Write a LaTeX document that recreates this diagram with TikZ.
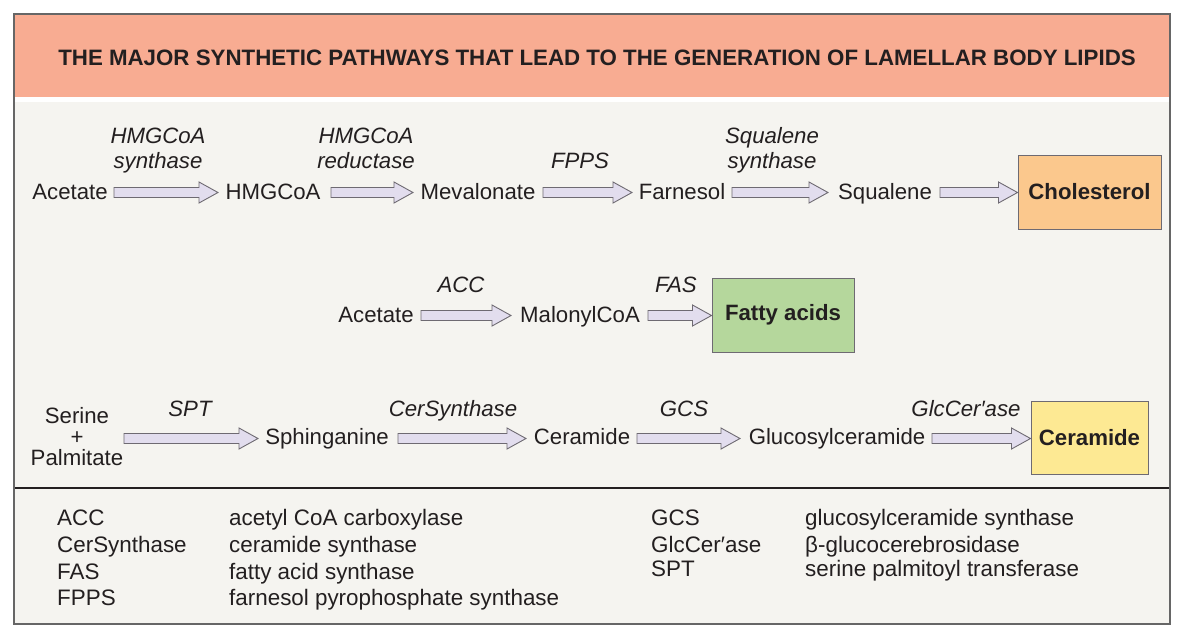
\documentclass[tikz,border=0pt]{standalone}
\usepackage{fontspec}
\setmainfont{Liberation Sans}
\usetikzlibrary{calc}
\definecolor{hdr}{HTML}{F8AC92}
\definecolor{bg}{HTML}{F5F4F0}
\definecolor{arrfill}{HTML}{E2DDEE}
\definecolor{arrline}{HTML}{6E6A72}
\definecolor{chol}{HTML}{FBC88D}
\definecolor{fatty}{HTML}{B5D79C}
\definecolor{cer}{HTML}{FDE993}
\definecolor{txt}{HTML}{231F20}
\tikzset{
  mol/.style={font=\fontsize{22.2}{24}\selectfont, text=txt, inner sep=0pt, outer sep=0pt, anchor=base},
  enz/.style={font=\fontsize{22.2}{25}\selectfont\itshape, text=txt, inner sep=0pt, align=center, anchor=base},
  prod/.style={draw=arrline, line width=1pt, font=\fontsize{22.2}{24}\selectfont\bfseries, text=txt},
  leg/.style={font=\fontsize{22.4}{24}\selectfont, text=txt, anchor=base west, inner sep=0pt},
  blockarrow/.style={draw=arrline, fill=arrfill, line width=0.9pt, line join=miter,
    to path={let \p1=(\tikztostart), \p2=(\tikztotarget) in
      (\x1,\y1+5pt) -- (\x2-19pt,\y1+5pt) -- (\x2-19pt,\y1+10.5pt) -- (\x2,\y1)
      -- (\x2-19pt,\y1-10.5pt) -- (\x2-19pt,\y1-5pt) -- (\x1,\y1-5pt) -- cycle}}
}
\begin{document}
\begin{tikzpicture}[x=1pt,y=-1pt]
\useasboundingbox (0,0) rectangle (1183,635);
\fill[white] (0,0) rectangle (1183,635);
% frame and backgrounds
\fill[bg] (14,102) rectangle (1170,624);
\fill[hdr] (14,14) rectangle (1170,97);
\draw[line width=1.5pt, draw=txt] (14,488) -- (1170,488);
\draw[line width=1.2pt, draw=black!60] (14,14) rectangle (1170,624);
\node[font=\fontsize{22.3}{24}\selectfont\bfseries, text=txt, anchor=base, inner sep=0pt] (title) at (597,65)
  {THE MAJOR SYNTHETIC PATHWAYS THAT LEAD TO THE GENERATION OF LAMELLAR BODY LIPIDS};

% row 1
\node[mol] (ac1) at (70,199) {Acetate};
\node[mol] (hmg) at (273,199) {HMGCoA};
\node[mol] (mev) at (478,199) {Mevalonate};
\node[mol] (far) at (682,199) {Farnesol};
\node[mol] (squ) at (885,199) {Squalene};
\node[prod, fill=chol, minimum width=143pt, minimum height=74pt] (chl) at (1089.5,192) {Cholesterol};
\coordinate (a1s) at (114,192.5); \coordinate (a1e) at (218,192.5);
\coordinate (a2s) at (331,192.5); \coordinate (a2e) at (413,192.5);
\coordinate (a3s) at (543,192.5); \coordinate (a3e) at (632,192.5);
\coordinate (a4s) at (732,192.5); \coordinate (a4e) at (828,192.5);
\coordinate (a5s) at (940,192.5);
\draw[blockarrow] (a1s) to (a1e);
\draw[blockarrow] (a2s) to (a2e);
\draw[blockarrow] (a3s) to (a3e);
\draw[blockarrow] (a4s) to (a4e);
\draw[blockarrow] (a5s) to (chl.west);
\node[enz] (e1) at (158,168) {HMGCoA\\synthase};
\node[enz] (e2) at (366,168) {HMGCoA\\reductase};
\node[enz] (e3) at (580,168) {FPPS};
\node[enz] (e4) at (772,168) {Squalene\\synthase};

% row 2
\node[mol] (ac2) at (376,322) {Acetate};
\node[mol] (mal) at (580,322) {MalonylCoA};
\node[prod, fill=fatty, minimum width=142pt, minimum height=74pt] (fa) at (783,315) {Fatty acids};
\coordinate (b1s) at (421,315.5); \coordinate (b1e) at (511,315.5);
\coordinate (b2s) at (648,315.5);
\draw[blockarrow] (b1s) to (b1e);
\draw[blockarrow] (b2s) to (fa.west);
\node[enz] (e5) at (461,292) {ACC};
\node[enz] (e6) at (676,292) {FAS};

% row 3
\node[mol, align=center, font=\fontsize{22.2}{20.7}\selectfont] (ser) at (77,465) {Serine\\+\\Palmitate};
\node[mol] (sph) at (327,444) {Sphinganine};
\node[mol] (cm) at (582,444) {Ceramide};
\node[mol] (glc) at (837,444) {Glucosylceramide};
\node[prod, fill=cer, minimum width=117pt, minimum height=73pt] (cer) at (1089.5,438) {Ceramide};
\coordinate (c1s) at (124,438.5); \coordinate (c1e) at (258,438.5);
\coordinate (c2s) at (398,438.5); \coordinate (c2e) at (526,438.5);
\coordinate (c3s) at (637,438.5); \coordinate (c3e) at (740,438.5);
\coordinate (c4s) at (932,438.5);
\draw[blockarrow] (c1s) to (c1e);
\draw[blockarrow] (c2s) to (c2e);
\draw[blockarrow] (c3s) to (c3e);
\draw[blockarrow] (c4s) to (cer.west);
\node[enz] (e7) at (190,416) {SPT};
\node[enz] (e8) at (453,416) {CerSynthase};
\node[enz] (e9) at (684,416) {GCS};
\node[enz] (e10) at (966,416) {GlcCer′ase};

% legend
\node[leg] (l1) at (57,525.5) {ACC};
\node[leg] (l2) at (57,552.5) {CerSynthase};
\node[leg] (l3) at (57,579.5) {FAS};
\node[leg] (l4) at (57,605.5) {FPPS};
\node[leg] (d1) at (229,525.5) {acetyl CoA carboxylase};
\node[leg] (d2) at (229,552.5) {ceramide synthase};
\node[leg] (d3) at (229,579.5) {fatty acid synthase};
\node[leg] (d4) at (229,605.5) {farnesol pyrophosphate synthase};
\node[leg] (l5) at (651,525.5) {GCS};
\node[leg] (l6) at (651,552.5) {GlcCer′ase};
\node[leg] (l7) at (651,576.5) {SPT};
\node[leg] (d5) at (805,525.5) {glucosylceramide synthase};
\node[leg] (d6) at (805,552.5) {β-glucocerebrosidase};
\node[leg] (d7) at (805,576.5) {serine palmitoyl transferase};
\end{tikzpicture}
\end{document}
